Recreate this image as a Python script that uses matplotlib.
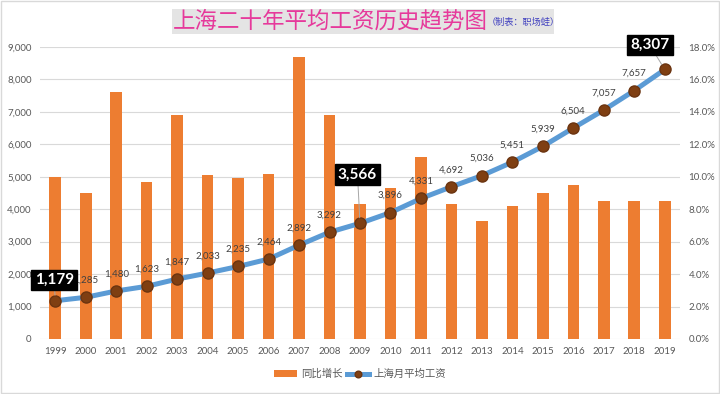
import numpy as np
import matplotlib
matplotlib.use('Agg')
import matplotlib.pyplot as plt
from matplotlib.patches import Rectangle
from matplotlib.ticker import FuncFormatter

plt.rcParams['font.family'] = ['Lato', 'Noto Sans CJK SC', 'DejaVu Sans']

years = ['1999', '2000', '2001', '2002', '2003', '2004', '2005', '2006', '2007', '2008', '2009',
         '2010', '2011', '2012', '2013', '2014', '2015', '2016', '2017', '2018', '2019']
wage = [1179, 1285, 1480, 1623, 1847, 2033, 2235, 2464, 2892, 3292, 3566,
        3896, 4331, 4692, 5036, 5451, 5939, 6504, 7057, 7657, 8307]
growth = [10.0, 9.0, 15.2, 9.7, 13.8, 10.1, 9.9, 10.2, 17.4, 13.8, 8.3,
          9.3, 11.2, 8.3, 7.3, 8.2, 9.0, 9.5, 8.5, 8.5, 8.5]
# labels shown in black boxes, offset of box centre in points
boxed = {'1999': (-0.7, 15), '2009': (-1.8, 35), '2019': (-10.8, 17.6)}

grey = '#595959'
x = np.arange(len(years))

fig = plt.figure(figsize=(7.2, 3.94), dpi=100)
ax = fig.add_axes([40 / 720, 55 / 394, 640 / 720, 292 / 394])
ax2 = ax.twinx()

# bars on right axis, drawn below the line axis
ax2.bar(x, growth, width=0.38, color='#ED7D31', label='同比增长', zorder=2)
ax2.set_ylim(0, 18)
ax2.set_yticks(np.arange(0, 18.1, 2))
ax2.yaxis.set_major_formatter(FuncFormatter(lambda v, p: '{:.1f}%'.format(v)))
ax2.grid(axis='y', color='#d9d9d9', linewidth=0.8)
ax2.set_axisbelow(True)

ax.set_zorder(ax2.get_zorder() + 1)
ax.patch.set_visible(False)
ax.plot(x, wage, color='#5B9BD5', linewidth=3.6, marker='o', markersize=8,
        markerfacecolor='#7f3f12', markeredgecolor='#6b3410', label='上海月平均工资', zorder=3)
ax.set_ylim(0, 9000)
ax.set_yticks(np.arange(0, 9001, 1000))
ax.yaxis.set_major_formatter(FuncFormatter(lambda v, p: '{:,}'.format(int(v))))
ax.set_xlim(-0.5, len(years) - 0.5)
ax.set_xticks(x)
ax.set_xticklabels(years)

for a in (ax, ax2):
    for s in a.spines.values():
        s.set_visible(False)
    a.tick_params(length=0, labelsize=7, labelcolor=grey, pad=6)

for i, v in enumerate(wage):
    if years[i] in boxed:
        ax.annotate('{:,}'.format(v), xy=(i, v), xytext=boxed[years[i]], textcoords='offset points',
                    ha='center', va='center', fontsize=11, fontweight='bold', color='white',
                    bbox=dict(boxstyle='square,pad=0.22', facecolor='black', edgecolor='black'),
                    arrowprops=dict(arrowstyle='-', color='#a6a6a6', linewidth=0.7, shrinkA=0, shrinkB=4),
                    zorder=6)
    else:
        ax.annotate('{:,}'.format(v), xy=(i, v), xytext=(0, 9), textcoords='offset points',
                    ha='center', va='bottom', fontsize=7, color='#404040', zorder=5)

# title box
fig.patches.append(Rectangle((172 / 720, 1 - 34 / 394), 382 / 720, 25 / 394,
                             transform=fig.transFigure, facecolor='#e4e4e4', edgecolor='none'))
fig.text(173 / 720, 1 - 21.5 / 394, '上海二十年平均工资历史趋势图', color='#e6399b',
         fontsize=16.2, fontweight='light', ha='left', va='center')
fig.text(487 / 720, 1 - 22 / 394, '（制表：职场蛙）', color='#3f3fbf',
         fontsize=6.6, ha='left', va='center')

# outer frame
fig.patches.append(Rectangle((0.001, 0.002), 0.997, 0.996, transform=fig.transFigure,
                             fill=False, edgecolor='#d9d9d9', linewidth=1))

h1, l1 = ax2.get_legend_handles_labels()
h2, l2 = ax.get_legend_handles_labels()
leg = fig.legend(h1 + h2, l1 + l2, loc='center', bbox_to_anchor=(0.5, 20 / 394), ncol=2,
                 frameon=False, fontsize=7.5, handlelength=2.2, columnspacing=0.4,
                 handletextpad=0.4, markerscale=0.6)
for t in leg.get_texts():
    t.set_color(grey)

fig.savefig('out.png', dpi=100)
